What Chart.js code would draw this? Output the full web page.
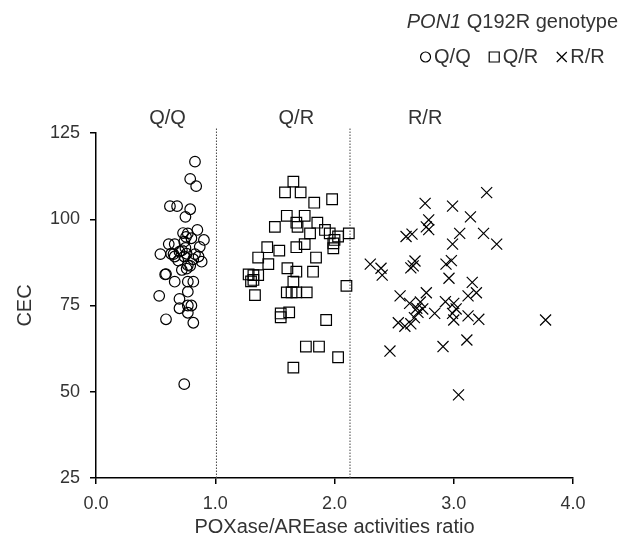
<!DOCTYPE html>
<html>
<head>
<meta charset="utf-8">
<script src="https://cdn.jsdelivr.net/npm/chart.js@4.4.1/dist/chart.umd.min.js"></script>
<style>
  html, body { margin: 0; padding: 0; background: #fff; }
  #wrap { width: 622px; height: 543px; }
</style>
</head>
<body>
<div id="wrap"><canvas id="c" width="622" height="543"></canvas></div>
<script>
// ---- Data ----
const qqX = [0.83,0.79,0.84,0.62,0.68,0.79,0.75,0.85,0.77,0.755,0.905,0.61,0.66,0.74,0.87,0.54,0.65,0.70,0.75,0.83,0.86,0.886,0.816,0.66,0.74,0.77,0.72,0.76,0.587,0.58,0.66,0.77,0.816,0.77,0.53,0.70,0.80,0.77,0.70,0.77,0.587,0.816,0.74,0.73,0.80,0.72,0.76,0.79,0.69,0.63];
const qqY = [116.7,111.7,109.6,103.8,103.8,102.9,100.7,96.9,95.9,94.9,94,92.8,92.8,93.5,92,89.9,89.9,90.6,91.7,89.9,89.2,87.7,88.4,89.2,89.2,86.7,85.3,85.7,84.1,84,81.9,81.9,81.9,79,77.8,76.9,75,75,74.2,72.9,71,70,52.2,96,94.5,91,90,86.5,88,90];

const qrX = [1.655,1.585,1.716,1.83,1.98,1.60,1.75,1.50,1.68,1.69,1.856,1.795,1.92,1.96,2.03,2.12,1.99,1.99,2.0,1.436,1.537,1.68,1.75,1.36,1.445,1.845,1.32,1.36,1.32,1.333,1.605,1.68,1.82,1.655,1.60,1.64,1.68,1.767,2.10,1.549,1.62,1.549,1.93,1.76,1.87,2.03,1.655,1.28,1.30];
const qrY = [110.9,107.8,107.8,104.8,105.8,101,101,97.8,99,97.8,99,95.9,96.9,95.9,95,95.9,93,91.6,94,91.9,90.9,91.9,92.8,88.9,87,88.9,83.8,83.8,82.4,78,85.8,84.8,84.8,81.9,78.8,78.8,78.8,78.8,80.7,72.7,73,71.6,70.8,63.1,63.1,60,57,84,82];

const rrX = [3.276,2.76,2.99,3.14,2.79,2.77,2.79,2.60,2.65,3.05,2.99,3.25,3.36,2.30,2.39,2.40,2.675,2.66,2.64,2.935,2.98,2.96,3.155,3.19,3.12,2.55,2.77,2.63,2.72,2.69,2.84,2.93,3.0,3.02,2.99,3.0,3.12,3.21,2.535,2.59,2.64,2.67,2.465,2.91,3.11,3.04,3.77,2.74,2.70];
const rrY = [107.7,104.6,103.8,100.7,99.8,97.8,97,95,95.7,95.9,92.8,95.9,92.8,87,85.8,83.8,87.9,86.5,85.9,87,88,82.9,81.7,78.7,77.8,77.8,78.7,75.6,76,74.2,72.7,76.1,75.6,74,72.7,70.8,72,71,70,69,69.7,71.5,61.8,63.1,65,49.1,70.8,74,73];

const groupNames = ['Q/Q', 'Q/R', 'R/R'];
const groupLabelX = [0.6, 1.68, 2.76];
const dividerX = [1.01, 2.13];
const yTicks = [25, 50, 75, 100, 125];
const xTicks = [0, 1, 2, 3, 4];

const pts = (xs, ys) => xs.map((x, i) => ({x, y: ys[i]}));

const FONT = 'Liberation Sans, Arial, Helvetica, sans-serif';
const TXT = '#333';

const overlay = {
  id: 'overlay',
  afterDraw(chart) {
    const ctx = chart.ctx;
    const xs = chart.scales.x;
    ctx.save();
    ctx.fillStyle = TXT;
    // group labels
    ctx.font = '20px ' + FONT;
    ctx.textAlign = 'center';
    ctx.textBaseline = 'middle';
    groupNames.forEach((g, i) => ctx.fillText(g, xs.getPixelForValue(groupLabelX[i]), 118));
    // legend title
    const right = 618;
    ctx.textAlign = 'left';
    ctx.font = '20px ' + FONT;
    const rest = ' Q192R genotype';
    const wRest = ctx.measureText(rest).width;
    ctx.font = 'italic 20px ' + FONT;
    const wIt = ctx.measureText('PON1').width;
    const x0 = right - wRest - wIt;
    ctx.fillText('PON1', x0, 22);
    ctx.font = '20px ' + FONT;
    ctx.fillText(rest, x0 + wIt, 22);
    const titleCenter = x0 + (wIt + wRest) / 2;
    // legend row
    const items = [['circle','Q/Q'],['rect','Q/R'],['cross','R/R']];
    const sym = 11, gapS = 3, gapI = 18;
    let total = 0;
    const widths = items.map(it => ctx.measureText(it[1]).width);
    widths.forEach(w => total += sym + gapS + w);
    total += gapI * (items.length - 1);
    let x = titleCenter - total / 2;
    const y = 57;
    ctx.strokeStyle = '#000';
    ctx.lineWidth = 1.2;
    items.forEach((it, i) => {
      const cx = x + sym / 2;
      ctx.beginPath();
      if (it[0] === 'circle') ctx.arc(cx, y, 5, 0, Math.PI * 2);
      else if (it[0] === 'rect') ctx.rect(cx - 5, y - 5, 10, 10);
      else { ctx.moveTo(cx-5, y-5); ctx.lineTo(cx+5, y+5); ctx.moveTo(cx+5, y-5); ctx.lineTo(cx-5, y+5); }
      ctx.stroke();
      ctx.fillStyle = TXT;
      ctx.fillText(it[1], x + sym + gapS, y);
      x += sym + gapS + widths[i] + gapI;
    });
    ctx.restore();
  }
};

const markerCommon = {
  borderColor: '#000',
  backgroundColor: 'rgba(0,0,0,0)',
  borderWidth: 1.2,
  showLine: false
};

const dividerSets = dividerX.map(v => ({
  type: 'line',
  data: [{x: v, y: 25}, {x: v, y: 126.5}],
  borderColor: '#444',
  borderWidth: 1,
  borderDash: [1.5, 1.5],
  pointRadius: 0,
  fill: false,
  clip: false
}));

new Chart(document.getElementById('c'), {
  type: 'scatter',
  data: {
    datasets: [
      ...dividerSets,
      {...markerCommon, label: 'Q/Q', data: pts(qqX, qqY), pointStyle: 'circle', pointRadius: 5.3},
      {...markerCommon, label: 'Q/R', data: pts(qrX, qrY), pointStyle: 'rect', pointRadius: 7.5},
      {...markerCommon, label: 'R/R', data: pts(rrX, rrY), pointStyle: 'crossRot', pointRadius: 7.8}
    ]
  },
  options: {
    responsive: false,
    animation: false,
    events: [],
    layout: { padding: { top: 133, right: 49, left: 0, bottom: 0 } },
    plugins: { legend: { display: false }, tooltip: { enabled: false } },
    scales: {
      x: {
        type: 'linear', min: 0, max: 4,
        afterBuildTicks: s => { s.ticks = xTicks.map(v => ({value: v})); },
        ticks: { callback: v => v.toFixed(1), color: TXT, font: { family: FONT, size: 18 }, padding: 9, maxRotation: 0 },
        grid: { display: true, drawOnChartArea: false, drawTicks: true, tickLength: 6, color: '#000', lineWidth: 1.5 },
        border: { display: true, color: '#000', width: 1.5 },
        title: { display: true, text: 'POXase/AREase activities ratio', color: TXT, font: { family: FONT, size: 20 }, padding: { top: 0, bottom: 4 } },
        afterFit: s => { s.height = 65; }
      },
      y: {
        type: 'linear', min: 25, max: 125,
        afterBuildTicks: s => { s.ticks = yTicks.map(v => ({value: v})); },
        ticks: { color: TXT, font: { family: FONT, size: 18 }, padding: 10 },
        grid: { display: true, drawOnChartArea: false, drawTicks: true, tickLength: 6, color: '#000', lineWidth: 1.5 },
        border: { display: true, color: '#000', width: 1.5 },
        title: { display: true, text: 'CEC', color: TXT, font: { family: FONT, size: 20 }, padding: { top: 13, bottom: 0 } },
        afterFit: s => { s.width = 96; }
      }
    }
  },
  plugins: [overlay]
});
</script>
</body>
</html>
